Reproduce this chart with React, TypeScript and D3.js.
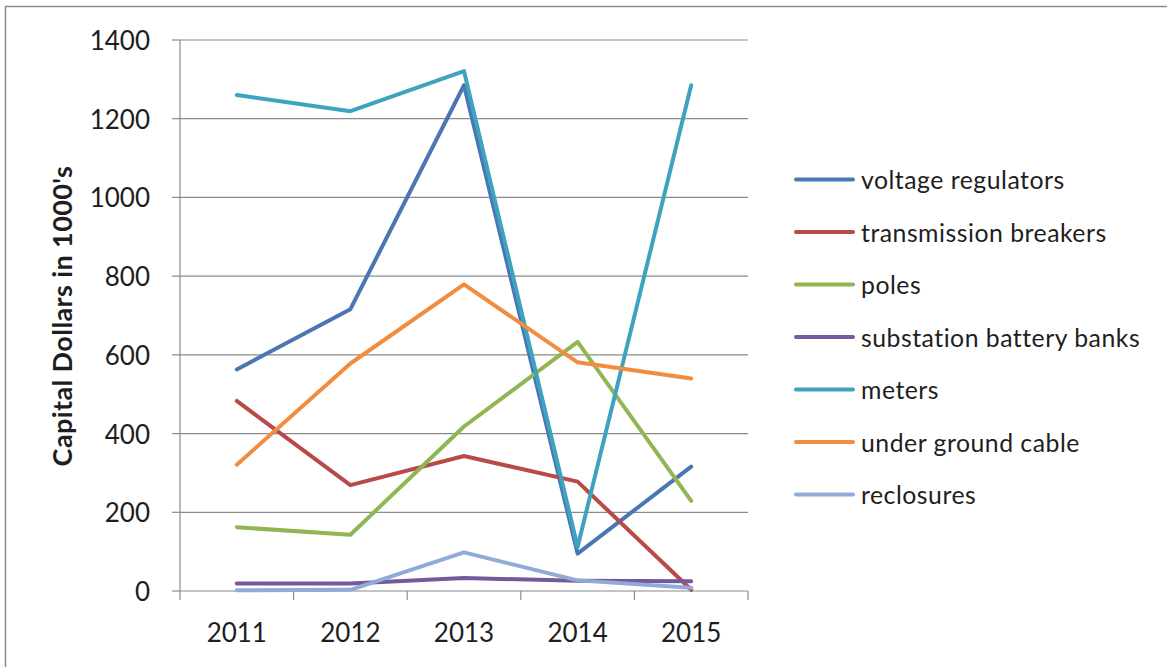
import React from "react";
import * as d3 from "d3";

// Capital spending per equipment category, in thousands of dollars
const years = ["2011", "2012", "2013", "2014", "2015"];

const voltageRegulators = [563, 716, 1285, 95, 316];
const transmissionBreakers = [483, 269, 343, 278, 3];
const poles = [162, 143, 418, 633, 229];
const substationBatteryBanks = [19, 19, 33, 26, 25];
const meters = [1260, 1219, 1321, 112, 1285];
const undergroundCable = [321, 578, 779, 581, 540];
const reclosures = [2, 3, 98, 27, 8];

const seriesNames = [
  "voltage regulators",
  "transmission breakers",
  "poles",
  "substation battery banks",
  "meters",
  "under ground cable",
  "reclosures",
];
const seriesValues = [
  voltageRegulators,
  transmissionBreakers,
  poles,
  substationBatteryBanks,
  meters,
  undergroundCable,
  reclosures,
];
const seriesColors = [
  "#4a77b4",
  "#b84a47",
  "#91b552",
  "#735a9b",
  "#3fa2bf",
  "#f28d3f",
  "#92abd6",
];

const yTicks = [0, 200, 400, 600, 800, 1000, 1200, 1400];

const W = 1167;
const H = 667;
const FONT = "Lato, 'Open Sans', sans-serif";

export default function App() {
  const x = d3.scaleBand<string>().domain(years).range([180, 748]).padding(0);
  const y = d3.scaleLinear().domain([0, 1400]).range([591, 40]);
  const cx = (yr: string) => (x(yr) as number) + x.bandwidth() / 2;

  const line = d3
    .line<number>()
    .x((_, i) => cx(years[i]))
    .y((v) => y(v));

  const boundaries = years.map((yr) => x(yr) as number).concat([748]);
  const gridColor = "#8a8a8a";
  const textColor = "#1e1e1e";

  return (
    <svg
      width={W}
      height={H}
      style={{ position: "absolute", left: 0, top: 0, background: "#fff" }}
      fontFamily={FONT}
    >
      <rect x={0} y={0} width={W} height={H} fill="#fff" />
      {/* chart frame, running off the right and bottom edges */}
      <path d={`M5.5,${H + 2} V6.5 H${W + 2}`} fill="none" stroke="#8c8c8c" strokeWidth={1.5} />

      {/* horizontal gridlines */}
      {yTicks.map((t) => (
        <line key={t} x1={180} x2={748} y1={y(t)} y2={y(t)} stroke={gridColor} strokeWidth={1.2} />
      ))}

      {/* value axis */}
      <line x1={180} x2={180} y1={y(1400)} y2={y(0)} stroke={gridColor} strokeWidth={1.2} />
      {yTicks.map((t) => (
        <line key={"yt" + t} x1={172} x2={180} y1={y(t)} y2={y(t)} stroke={gridColor} strokeWidth={1.2} />
      ))}
      {yTicks.map((t) => (
        <text
          key={"yl" + t}
          x={150}
          y={y(t)}
          textAnchor="end"
          dominantBaseline="central"
          fontSize={26}
          fill={textColor}
        >
          {t}
        </text>
      ))}

      {/* category axis */}
      {boundaries.map((b, i) => (
        <line key={"xt" + i} x1={b} x2={b} y1={y(0)} y2={y(0) + 9} stroke={gridColor} strokeWidth={1.2} />
      ))}
      {years.map((yr) => (
        <text key={yr} x={cx(yr)} y={642} textAnchor="middle" fontSize={26} fill={textColor}>
          {yr}
        </text>
      ))}

      <text
        transform={`translate(72,316) rotate(-90)`}
        textAnchor="middle"
        fontSize={27}
        fontWeight="bold"
        letterSpacing={0.4}
        fill={textColor}
      >
        Capital Dollars in 1000's
      </text>

      {/* series */}
      {seriesValues.map((vals, i) => (
        <path
          key={seriesNames[i]}
          d={line(vals) as string}
          fill="none"
          stroke={seriesColors[i]}
          strokeWidth={4}
          strokeLinejoin="round"
          strokeLinecap="round"
        />
      ))}

      {/* legend */}
      {seriesNames.map((name, i) => {
        const ly = 179.5 + i * 52.5;
        return (
          <g key={"lg" + name}>
            <line x1={796} x2={853} y1={ly} y2={ly} stroke={seriesColors[i]} strokeWidth={4} strokeLinecap="round" />
            <text
              x={861}
              y={ly}
              dominantBaseline="central"
              fontSize={24.8}
              letterSpacing={0.5}
              fill={textColor}
            >
              {name}
            </text>
          </g>
        );
      })}
    </svg>
  );
}
